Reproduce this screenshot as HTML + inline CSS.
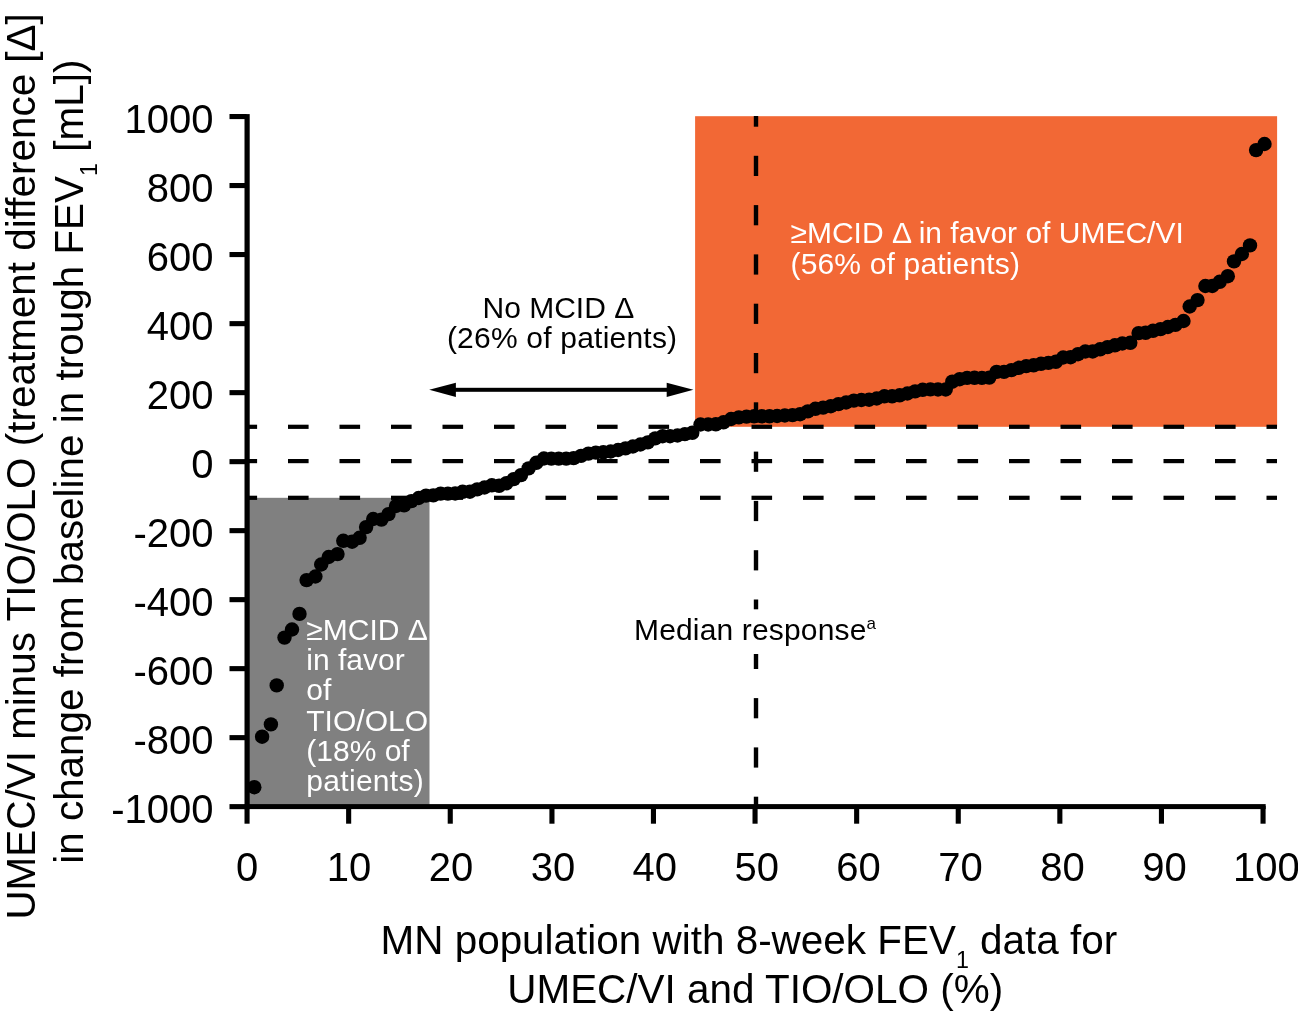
<!DOCTYPE html>
<html><head><meta charset="utf-8"><title>Chart</title>
<style>
html,body{margin:0;padding:0;background:#fff;}
body{width:1298px;height:1016px;overflow:hidden;position:relative;font-family:"Liberation Sans",sans-serif;}
svg text{font-family:"Liberation Sans",sans-serif;}
</style></head><body>
<svg width="1298" height="1016" viewBox="0 0 1298 1016" style="position:absolute;left:0;top:0;will-change:transform"><rect x="0" y="0" width="1298" height="1016" fill="#fff"/><rect x="695.1" y="116.2" width="582.0" height="310.6" fill="#F26835"/><rect x="247.1" y="497.8" width="182.4" height="308.2" fill="#808080"/><g fill="#000"><rect x="247.1" y="424.7" width="10.0" height="4.2"/><rect x="288.0" y="424.7" width="20.6" height="4.2"/><rect x="339.5" y="424.7" width="20.6" height="4.2"/><rect x="391.0" y="424.7" width="20.6" height="4.2"/><rect x="442.5" y="424.7" width="20.6" height="4.2"/><rect x="494.0" y="424.7" width="20.6" height="4.2"/><rect x="545.5" y="424.7" width="20.6" height="4.2"/><rect x="597.0" y="424.7" width="20.6" height="4.2"/><rect x="648.5" y="424.7" width="20.6" height="4.2"/><rect x="700.0" y="424.7" width="20.6" height="4.2"/><rect x="751.5" y="424.7" width="20.6" height="4.2"/><rect x="803.0" y="424.7" width="20.6" height="4.2"/><rect x="854.5" y="424.7" width="20.6" height="4.2"/><rect x="906.0" y="424.7" width="20.6" height="4.2"/><rect x="957.5" y="424.7" width="20.6" height="4.2"/><rect x="1009.0" y="424.7" width="20.6" height="4.2"/><rect x="1060.5" y="424.7" width="20.6" height="4.2"/><rect x="1112.0" y="424.7" width="20.6" height="4.2"/><rect x="1163.5" y="424.7" width="20.6" height="4.2"/><rect x="1215.0" y="424.7" width="20.6" height="4.2"/><rect x="1266.5" y="424.7" width="10.5" height="4.2"/><rect x="247.1" y="459.0" width="10.0" height="4.2"/><rect x="288.0" y="459.0" width="20.6" height="4.2"/><rect x="339.5" y="459.0" width="20.6" height="4.2"/><rect x="391.0" y="459.0" width="20.6" height="4.2"/><rect x="442.5" y="459.0" width="20.6" height="4.2"/><rect x="494.0" y="459.0" width="20.6" height="4.2"/><rect x="545.5" y="459.0" width="20.6" height="4.2"/><rect x="597.0" y="459.0" width="20.6" height="4.2"/><rect x="648.5" y="459.0" width="20.6" height="4.2"/><rect x="700.0" y="459.0" width="20.6" height="4.2"/><rect x="751.5" y="459.0" width="20.6" height="4.2"/><rect x="803.0" y="459.0" width="20.6" height="4.2"/><rect x="854.5" y="459.0" width="20.6" height="4.2"/><rect x="906.0" y="459.0" width="20.6" height="4.2"/><rect x="957.5" y="459.0" width="20.6" height="4.2"/><rect x="1009.0" y="459.0" width="20.6" height="4.2"/><rect x="1060.5" y="459.0" width="20.6" height="4.2"/><rect x="1112.0" y="459.0" width="20.6" height="4.2"/><rect x="1163.5" y="459.0" width="20.6" height="4.2"/><rect x="1215.0" y="459.0" width="20.6" height="4.2"/><rect x="1266.5" y="459.0" width="10.5" height="4.2"/><rect x="247.1" y="495.7" width="10.0" height="4.2"/><rect x="288.0" y="495.7" width="20.6" height="4.2"/><rect x="339.5" y="495.7" width="20.6" height="4.2"/><rect x="391.0" y="495.7" width="20.6" height="4.2"/><rect x="442.5" y="495.7" width="20.6" height="4.2"/><rect x="494.0" y="495.7" width="20.6" height="4.2"/><rect x="545.5" y="495.7" width="20.6" height="4.2"/><rect x="597.0" y="495.7" width="20.6" height="4.2"/><rect x="648.5" y="495.7" width="20.6" height="4.2"/><rect x="700.0" y="495.7" width="20.6" height="4.2"/><rect x="751.5" y="495.7" width="20.6" height="4.2"/><rect x="803.0" y="495.7" width="20.6" height="4.2"/><rect x="854.5" y="495.7" width="20.6" height="4.2"/><rect x="906.0" y="495.7" width="20.6" height="4.2"/><rect x="957.5" y="495.7" width="20.6" height="4.2"/><rect x="1009.0" y="495.7" width="20.6" height="4.2"/><rect x="1060.5" y="495.7" width="20.6" height="4.2"/><rect x="1112.0" y="495.7" width="20.6" height="4.2"/><rect x="1163.5" y="495.7" width="20.6" height="4.2"/><rect x="1215.0" y="495.7" width="20.6" height="4.2"/><rect x="1266.5" y="495.7" width="10.5" height="4.2"/><rect x="753.8" y="116.0" width="4.4" height="10.7"/><rect x="753.8" y="155.8" width="4.4" height="20.2"/><rect x="753.8" y="205.1" width="4.4" height="20.2"/><rect x="753.8" y="254.4" width="4.4" height="20.2"/><rect x="753.8" y="303.7" width="4.4" height="20.2"/><rect x="753.8" y="353.0" width="4.4" height="20.2"/><rect x="753.8" y="402.3" width="4.4" height="20.2"/><rect x="753.8" y="451.6" width="4.4" height="20.2"/><rect x="753.8" y="500.9" width="4.4" height="20.2"/><rect x="753.8" y="550.2" width="4.4" height="20.2"/><rect x="753.8" y="599.5" width="4.4" height="9.8"/><rect x="753.8" y="654.0" width="4.4" height="15.0"/><rect x="753.8" y="698.1" width="4.4" height="20.2"/><rect x="753.8" y="747.4" width="4.4" height="20.2"/><rect x="753.8" y="796.7" width="4.4" height="9.3"/></g><g fill="#000"><rect x="244.5" y="114.1" width="5.2" height="695.0"/><rect x="244.5" y="804.1" width="1021.2" height="5.0"/><rect x="229.5" y="114.0" width="17" height="5.1"/><rect x="229.5" y="183.0" width="17" height="5.1"/><rect x="229.5" y="252.0" width="17" height="5.1"/><rect x="229.5" y="321.1" width="17" height="5.1"/><rect x="229.5" y="390.1" width="17" height="5.1"/><rect x="229.5" y="459.1" width="17" height="5.1"/><rect x="229.5" y="528.1" width="17" height="5.1"/><rect x="229.5" y="597.1" width="17" height="5.1"/><rect x="229.5" y="666.1" width="17" height="5.1"/><rect x="229.5" y="735.1" width="17" height="5.1"/><rect x="229.5" y="804.1" width="17" height="5.1"/><rect x="244.5" y="806" width="5.1" height="17.7"/><rect x="346.1" y="806" width="5.1" height="17.7"/><rect x="447.7" y="806" width="5.1" height="17.7"/><rect x="549.4" y="806" width="5.1" height="17.7"/><rect x="650.9" y="806" width="5.1" height="17.7"/><rect x="752.5" y="806" width="5.1" height="17.7"/><rect x="854.1" y="806" width="5.1" height="17.7"/><rect x="955.7" y="806" width="5.1" height="17.7"/><rect x="1057.3" y="806" width="5.1" height="17.7"/><rect x="1158.9" y="806" width="5.1" height="17.7"/><rect x="1260.5" y="806" width="5.1" height="17.7"/></g><g fill="#000"><rect x="450" y="387.8" width="222" height="4.0"/><polygon points="429.2,389.8 455.9,382.7 455.9,396.9"/><polygon points="693.4,389.8 666.7,382.7 666.7,396.9"/></g><g fill="#000"><circle cx="254.3" cy="787.2" r="7.2"/><circle cx="262.1" cy="736.7" r="7.2"/><circle cx="270.9" cy="724.4" r="7.2"/><circle cx="276.7" cy="685.4" r="7.2"/><circle cx="284.5" cy="637.6" r="7.2"/><circle cx="292.0" cy="629.5" r="7.2"/><circle cx="299.5" cy="613.9" r="7.2"/><circle cx="306.6" cy="580.1" r="7.2"/><circle cx="315.4" cy="576.5" r="7.2"/><circle cx="321.2" cy="564.5" r="7.2"/><circle cx="328.7" cy="557.0" r="7.2"/><circle cx="337.5" cy="554.1" r="7.2"/><circle cx="343.3" cy="540.8" r="7.2"/><circle cx="352.1" cy="541.7" r="7.2"/><circle cx="359.6" cy="537.8" r="7.2"/><circle cx="366.1" cy="527.1" r="7.2"/><circle cx="373.2" cy="519.0" r="7.2"/><circle cx="381.4" cy="519.6" r="7.2"/><circle cx="388.5" cy="514.1" r="7.2"/><circle cx="396.0" cy="506.0" r="7.2"/><circle cx="404.1" cy="505.3" r="7.2"/><circle cx="411.4" cy="501.1" r="7.2"/><circle cx="418.7" cy="498.0" r="7.2"/><circle cx="426.0" cy="495.6" r="7.2"/><circle cx="433.3" cy="495.4" r="7.2"/><circle cx="440.6" cy="493.6" r="7.2"/><circle cx="447.9" cy="493.6" r="7.2"/><circle cx="455.2" cy="493.5" r="7.2"/><circle cx="462.6" cy="491.8" r="7.2"/><circle cx="469.9" cy="491.7" r="7.2"/><circle cx="477.2" cy="489.4" r="7.2"/><circle cx="484.5" cy="487.5" r="7.2"/><circle cx="491.8" cy="485.3" r="7.2"/><circle cx="499.1" cy="485.8" r="7.2"/><circle cx="506.4" cy="483.2" r="7.2"/><circle cx="513.7" cy="479.1" r="7.2"/><circle cx="521.0" cy="475.1" r="7.2"/><circle cx="528.6" cy="468.4" r="7.2"/><circle cx="536.3" cy="462.8" r="7.2"/><circle cx="543.9" cy="458.5" r="7.2"/><circle cx="551.3" cy="458.6" r="7.2"/><circle cx="558.7" cy="458.6" r="7.2"/><circle cx="566.2" cy="458.6" r="7.2"/><circle cx="573.6" cy="458.1" r="7.2"/><circle cx="581.0" cy="455.9" r="7.2"/><circle cx="588.4" cy="453.6" r="7.2"/><circle cx="595.8" cy="452.6" r="7.2"/><circle cx="603.3" cy="452.3" r="7.2"/><circle cx="610.7" cy="451.5" r="7.2"/><circle cx="618.1" cy="450.0" r="7.2"/><circle cx="625.5" cy="448.4" r="7.2"/><circle cx="632.9" cy="446.5" r="7.2"/><circle cx="640.4" cy="444.5" r="7.2"/><circle cx="647.8" cy="442.4" r="7.2"/><circle cx="655.2" cy="438.4" r="7.2"/><circle cx="662.6" cy="436.2" r="7.2"/><circle cx="670.0" cy="436.2" r="7.2"/><circle cx="677.5" cy="435.5" r="7.2"/><circle cx="684.9" cy="434.1" r="7.2"/><circle cx="692.3" cy="432.8" r="7.2"/><circle cx="700.5" cy="424.5" r="7.2"/><circle cx="708.2" cy="424.5" r="7.2"/><circle cx="715.8" cy="424.3" r="7.2"/><circle cx="723.5" cy="422.3" r="7.2"/><circle cx="731.1" cy="419.0" r="7.2"/><circle cx="738.8" cy="417.4" r="7.2"/><circle cx="746.5" cy="416.6" r="7.2"/><circle cx="754.1" cy="416.3" r="7.2"/><circle cx="761.8" cy="416.3" r="7.2"/><circle cx="769.5" cy="416.3" r="7.2"/><circle cx="777.1" cy="416.0" r="7.2"/><circle cx="784.8" cy="415.5" r="7.2"/><circle cx="792.5" cy="415.1" r="7.2"/><circle cx="800.1" cy="414.2" r="7.2"/><circle cx="807.8" cy="411.4" r="7.2"/><circle cx="815.4" cy="408.8" r="7.2"/><circle cx="823.1" cy="407.6" r="7.2"/><circle cx="830.8" cy="406.2" r="7.2"/><circle cx="838.4" cy="404.1" r="7.2"/><circle cx="846.1" cy="402.5" r="7.2"/><circle cx="853.8" cy="400.6" r="7.2"/><circle cx="861.4" cy="400.0" r="7.2"/><circle cx="869.1" cy="399.7" r="7.2"/><circle cx="876.7" cy="398.5" r="7.2"/><circle cx="884.4" cy="396.3" r="7.2"/><circle cx="892.1" cy="396.3" r="7.2"/><circle cx="899.7" cy="395.3" r="7.2"/><circle cx="907.4" cy="393.5" r="7.2"/><circle cx="915.1" cy="391.4" r="7.2"/><circle cx="922.7" cy="389.8" r="7.2"/><circle cx="930.4" cy="389.4" r="7.2"/><circle cx="938.0" cy="389.5" r="7.2"/><circle cx="945.7" cy="389.5" r="7.2"/><circle cx="952.3" cy="381.7" r="7.2"/><circle cx="959.7" cy="379.2" r="7.2"/><circle cx="967.1" cy="377.9" r="7.2"/><circle cx="974.5" cy="377.8" r="7.2"/><circle cx="981.9" cy="377.9" r="7.2"/><circle cx="989.3" cy="377.6" r="7.2"/><circle cx="996.6" cy="371.9" r="7.2"/><circle cx="1004.0" cy="371.9" r="7.2"/><circle cx="1011.4" cy="370.1" r="7.2"/><circle cx="1018.8" cy="367.8" r="7.2"/><circle cx="1026.2" cy="366.1" r="7.2"/><circle cx="1033.6" cy="365.3" r="7.2"/><circle cx="1041.0" cy="363.8" r="7.2"/><circle cx="1048.4" cy="362.9" r="7.2"/><circle cx="1055.8" cy="361.8" r="7.2"/><circle cx="1063.2" cy="357.5" r="7.2"/><circle cx="1070.6" cy="357.2" r="7.2"/><circle cx="1078.0" cy="354.2" r="7.2"/><circle cx="1085.3" cy="351.5" r="7.2"/><circle cx="1092.7" cy="351.5" r="7.2"/><circle cx="1100.1" cy="349.3" r="7.2"/><circle cx="1107.5" cy="347.1" r="7.2"/><circle cx="1114.9" cy="345.3" r="7.2"/><circle cx="1122.3" cy="343.5" r="7.2"/><circle cx="1130.3" cy="342.8" r="7.2"/><circle cx="1138.6" cy="333.1" r="7.2"/><circle cx="1145.6" cy="332.8" r="7.2"/><circle cx="1153.0" cy="330.8" r="7.2"/><circle cx="1160.5" cy="329.1" r="7.2"/><circle cx="1167.9" cy="327.0" r="7.2"/><circle cx="1175.4" cy="324.9" r="7.2"/><circle cx="1183.5" cy="321.0" r="7.2"/><circle cx="1189.7" cy="306.5" r="7.2"/><circle cx="1197.5" cy="300.1" r="7.2"/><circle cx="1205.4" cy="286.0" r="7.2"/><circle cx="1212.3" cy="286.0" r="7.2"/><circle cx="1219.7" cy="281.8" r="7.2"/><circle cx="1227.8" cy="276.2" r="7.2"/><circle cx="1234.0" cy="261.4" r="7.2"/><circle cx="1241.9" cy="254.0" r="7.2"/><circle cx="1250.0" cy="245.4" r="7.2"/><circle cx="1256.1" cy="150.1" r="7.2"/><circle cx="1264.5" cy="144.0" r="7.2"/></g><g font-family="Liberation Sans, sans-serif" font-size="40px" fill="#000"><text x="213.6" y="132.8" text-anchor="end">1000</text><text x="213.6" y="201.8" text-anchor="end">800</text><text x="213.6" y="270.8" text-anchor="end">600</text><text x="213.6" y="339.8" text-anchor="end">400</text><text x="213.6" y="408.8" text-anchor="end">200</text><text x="213.6" y="477.8" text-anchor="end">0</text><text x="213.6" y="546.8" text-anchor="end">-200</text><text x="213.6" y="615.8" text-anchor="end">-400</text><text x="213.6" y="684.8" text-anchor="end">-600</text><text x="213.6" y="753.8" text-anchor="end">-800</text><text x="213.6" y="822.8" text-anchor="end">-1000</text><text x="247.1" y="880.9" text-anchor="middle">0</text><text x="349.0" y="880.9" text-anchor="middle">10</text><text x="450.9" y="880.9" text-anchor="middle">20</text><text x="552.9" y="880.9" text-anchor="middle">30</text><text x="654.8" y="880.9" text-anchor="middle">40</text><text x="756.7" y="880.9" text-anchor="middle">50</text><text x="858.6" y="880.9" text-anchor="middle">60</text><text x="960.5" y="880.9" text-anchor="middle">70</text><text x="1062.5" y="880.9" text-anchor="middle">80</text><text x="1164.4" y="880.9" text-anchor="middle">90</text><text x="1266.3" y="880.9" text-anchor="middle">100</text></g><g font-family="Liberation Sans, sans-serif" font-size="40.45px" fill="#000"><text x="748.9" y="953.9" text-anchor="middle">MN population with 8-week FEV<tspan font-size="23.3px" dy="13.7">1</tspan><tspan dy="-13.7"> data for</tspan></text><text x="755.2" y="1002.7" text-anchor="middle">UMEC/VI and TIO/OLO (%)</text><text transform="translate(35.2,919.6) rotate(-90)" x="0" y="0">UMEC/VI minus TIO/OLO (treatment difference [Δ]</text><text transform="translate(82.8,863.8) rotate(-90)" x="0" y="0">in change from baseline in trough FEV<tspan font-size="23.3px" dy="13.7">1</tspan><tspan dy="-13.7"> [mL])</tspan></text></g><g font-family="Liberation Sans, sans-serif" font-size="30px" fill="#000"><text x="558.4" y="317.8" text-anchor="middle">No MCID Δ</text><text x="562.0" y="348.3" text-anchor="middle" textLength="230.2">(26% of patients)</text></g><g font-family="Liberation Sans, sans-serif" font-size="30px" fill="#000"><text x="634.0" y="639.9" textLength="232.4">Median response</text><text x="866.4" y="629.2" font-size="17px">a</text></g><g font-family="Liberation Sans, sans-serif" font-size="30px" fill="#fff"><text x="790.5" y="242.6">≥MCID Δ in favor of UMEC/VI</text><text x="790.5" y="274.0" textLength="229.4">(56% of patients)</text><text x="306.3" y="639.7">≥MCID Δ</text><text x="306.3" y="670.0">in favor</text><text x="306.3" y="700.3">of</text><text x="306.3" y="730.6">TIO/OLO</text><text x="306.3" y="760.9">(18% of</text><text x="306.3" y="791.2" textLength="117.5">patients)</text></g></svg>
</body></html>
